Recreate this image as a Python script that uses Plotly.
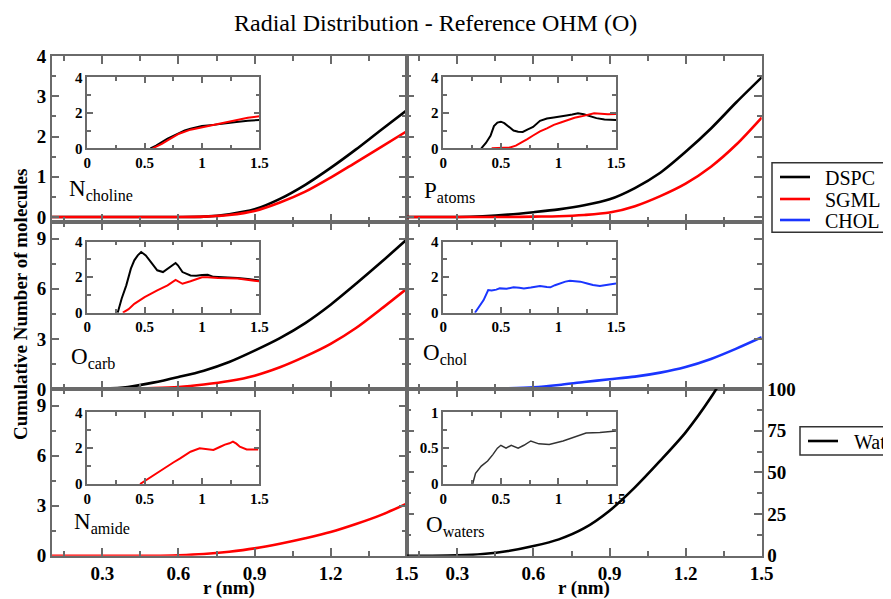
import plotly.graph_objects as go

# ---------------- DATA ----------------
r_main = [0.1, 0.2, 0.3, 0.4, 0.5, 0.6, 0.7, 0.8, 0.9, 1.0, 1.1, 1.2, 1.3, 1.4, 1.5]

nchol_dspc = [0, 0, 0, 0, 0, 0.0, 0.01, 0.07, 0.19, 0.45, 0.80, 1.22, 1.68, 2.17, 2.65]
nchol_sgml = [0, 0, 0, 0, 0, 0.0, 0.01, 0.05, 0.15, 0.36, 0.63, 0.98, 1.36, 1.74, 2.13]

patoms_dspc = [0, 0, 0, 0.02, 0.06, 0.12, 0.19, 0.29, 0.44, 0.72, 1.10, 1.62, 2.20, 2.85, 3.47]
patoms_sgml = [0, 0, 0, 0, 0, 0.01, 0.02, 0.05, 0.11, 0.27, 0.52, 0.83, 1.25, 1.80, 2.47]

ocarb_dspc = [0, 0, 0.02, 0.12, 0.38, 0.72, 1.10, 1.62, 2.30, 3.05, 3.95, 5.05, 6.30, 7.60, 8.95]
ocarb_sgml = [0, 0, 0, 0.01, 0.05, 0.12, 0.27, 0.48, 0.80, 1.30, 1.95, 2.70, 3.65, 4.80, 6.00]

ochol_chol = [0, 0, 0, 0.01, 0.04, 0.10, 0.24, 0.42, 0.58, 0.74, 0.98, 1.32, 1.80, 2.42, 3.10]

namide_sgml = [0, 0, 0, 0, 0, 0.03, 0.10, 0.24, 0.44, 0.72, 1.05, 1.42, 1.90, 2.45, 3.12]

owat_wat = [0, 0, 0.2, 1.0, 2.8, 5.8, 9.8, 16.5, 27, 41, 57, 74, 95, 120, 146]

# insets (running coordination, r in nm)
in_nchol_r_dspc = [0.55, 0.6, 0.65, 0.7, 0.75, 0.8, 0.85, 0.9, 1.0, 1.1, 1.2, 1.3, 1.4, 1.5]
in_nchol_dspc = [0, 0.15, 0.35, 0.55, 0.70, 0.85, 1.00, 1.10, 1.25, 1.32, 1.38, 1.48, 1.55, 1.60]
in_nchol_r_sgml = [0.57, 0.6, 0.65, 0.7, 0.75, 0.8, 0.9, 1.0, 1.1, 1.2, 1.3, 1.4, 1.5]
in_nchol_sgml = [0, 0.08, 0.25, 0.45, 0.65, 0.82, 1.05, 1.18, 1.30, 1.42, 1.58, 1.72, 1.80]

in_patoms_r_dspc = [0.33, 0.37, 0.41, 0.44, 0.47, 0.5, 0.53, 0.57, 0.61, 0.65, 0.69, 0.73, 0.78,
                    0.84, 0.9, 0.96, 1.02, 1.07, 1.12, 1.17, 1.22, 1.27, 1.33, 1.4, 1.5]
in_patoms_dspc = [0, 0.3, 0.7, 1.25, 1.45, 1.5, 1.42, 1.2, 1.0, 0.93, 0.92, 1.05, 1.2,
                  1.55, 1.68, 1.74, 1.78, 1.85, 1.9, 1.98, 1.92, 1.82, 1.7, 1.62, 1.6]
in_patoms_r_sgml = [0.42, 0.5, 0.58, 0.63, 0.68, 0.73, 0.78, 0.84, 0.9, 0.96, 1.02, 1.08, 1.14,
                    1.2, 1.25, 1.31, 1.37, 1.43, 1.5]
in_patoms_sgml = [0, 0.02, 0.05, 0.15, 0.32, 0.52, 0.72, 0.95, 1.12, 1.32, 1.45, 1.6, 1.72,
                  1.8, 1.88, 1.97, 1.95, 1.92, 1.93]

in_ocarb_r_dspc = [0.265, 0.3, 0.34, 0.38, 0.41, 0.44, 0.47, 0.51, 0.555, 0.61, 0.66, 0.7, 0.74,
                   0.77, 0.79, 0.83, 0.9, 0.95, 1.0, 1.05, 1.1, 1.2, 1.31, 1.4, 1.5]
in_ocarb_dspc = [0, 0.8, 1.54, 2.48, 2.95, 3.23, 3.42, 3.23, 2.85, 2.39, 2.29, 2.48, 2.7,
                 2.8, 2.67, 2.29, 2.1, 2.08, 2.12, 2.14, 2.02, 2.0, 1.95, 1.9, 1.82]
in_ocarb_r_sgml = [0.31, 0.36, 0.41, 0.5, 0.61, 0.7, 0.77, 0.8, 0.83, 0.9, 1.0, 1.05, 1.14, 1.31, 1.4, 1.5]
in_ocarb_sgml = [0, 0.2, 0.5, 0.88, 1.26, 1.54, 1.85, 1.72, 1.63, 1.77, 2.0, 2.0, 1.95, 1.92, 1.85, 1.77]

in_ochol_r = [0.275, 0.31, 0.35, 0.39, 0.42, 0.46, 0.49, 0.55, 0.61, 0.66, 0.7, 0.76, 0.84, 0.9,
              0.93, 0.97, 1.01, 1.06, 1.1, 1.15, 1.19, 1.25, 1.3, 1.36, 1.42, 1.5]
in_ochol_chol = [0, 0.3, 0.71, 1.28, 1.25, 1.3, 1.37, 1.35, 1.43, 1.4, 1.37, 1.42, 1.5, 1.45,
                 1.43, 1.55, 1.65, 1.75, 1.8, 1.76, 1.75, 1.65, 1.56, 1.5, 1.55, 1.65]

in_namide_r = [0.46, 0.52, 0.58, 0.63, 0.69, 0.75, 0.81, 0.86, 0.9, 0.98, 1.04, 1.1, 1.16, 1.2,
               1.24, 1.27, 1.3, 1.33, 1.39, 1.44, 1.49]
in_namide_sgml = [0, 0.25, 0.5, 0.75, 0.97, 1.2, 1.43, 1.62, 1.8, 1.99, 1.95, 1.9, 2.08, 2.2,
                  2.27, 2.36, 2.25, 2.08, 1.93, 1.95, 1.93]

in_owat_r = [0.255, 0.28, 0.33, 0.385, 0.43, 0.47, 0.5, 0.545, 0.59, 0.65, 0.7, 0.76, 0.83, 0.92,
             1.04, 1.12, 1.24, 1.36, 1.5]
in_owat_wat = [0, 0.15, 0.25, 0.32, 0.41, 0.5, 0.54, 0.5, 0.54, 0.5, 0.54, 0.6, 0.56, 0.55,
               0.6, 0.64, 0.71, 0.72, 0.74]

# tick labels
main_x_ticks = [0.3, 0.6, 0.9, 1.2, 1.5]
main_x_labels = ["0.3", "0.6", "0.9", "1.2", "1.5"]
top_y_ticks = [0, 1, 2, 3, 4]
mid_y_ticks = [0, 3, 6, 9]
wat_y_ticks = [0, 25, 50, 75, 100]
inset_x_ticks = [0, 0.5, 1, 1.5]
inset_x_labels = ["0", "0.5", "1", "1.5"]
inset_y_ticks = [0, 2, 4]
inset_wat_y_ticks = [0, 0.5, 1]
inset_wat_y_labels = ["0", "0.5", "1"]

series_names = ["DSPC", "SGML", "CHOL"]
water_name = "Wat"
panel_labels = [("N", "choline"), ("P", "atoms"), ("O", "carb"),
                ("O", "chol"), ("N", "amide"), ("O", "waters")]

# ---------------- STYLE ----------------
PAGE_W, PAGE_H = 891, 599
OFF = 8  # default page margin of the html body
W, H = PAGE_W - OFF, PAGE_H - OFF
BLACK, RED, BLUE = "#000000", "#ff0000", "#1a35ff"
FRAME = "#6a6a6a"
FONT = "Liberation Serif, Times New Roman, DejaVu Serif, serif"


def fx(p):
    return (p - OFF) / W


def fy(p):
    return 1 - (p - OFF) / H


col_x = [(51.7, 406.7), (406.7, 761.7)]
row_y = [(56, 222), (222, 389), (389, 555.7)]
inset_col_x = [(87.3, 259.3), (443.3, 616.0)]
inset_row_y = [(77.3, 148.3), (241.7, 312.7), (412.3, 484.0)]

fig = go.Figure()
layout = {}


def axis_common(ticklen, fontsize):
    return dict(ticks="inside", ticklen=ticklen, tickwidth=1.5, tickcolor=FRAME,
                showline=True, linecolor=FRAME, linewidth=1.5, mirror="ticks",
                showgrid=False, zeroline=False, automargin=False,
                tickfont=dict(family=FONT, size=fontsize, color="black", weight="bold"))


main_yranges = [[-0.124, 4], [-0.124, 4], [0, 10], [0, 10], [0, 10], [0, 100]]
main_yticks = [top_y_ticks, top_y_ticks, mid_y_ticks, mid_y_ticks, mid_y_ticks, wat_y_ticks]
main_yminor = [[0.5, 1.5, 2.5, 3.5], [0.5, 1.5, 2.5, 3.5], [1.5, 4.5, 7.5], [1.5, 4.5, 7.5],
               [1.5, 4.5, 7.5], [12.5, 37.5, 62.5, 87.5]]

for i in range(6):
    row, col = divmod(i, 2)
    n = i + 1
    xa = axis_common(8, 19)
    xa.update(domain=[fx(col_x[col][0]), fx(col_x[col][1])], range=[0.1, 1.5],
              tickmode="array", tickvals=main_x_ticks, ticktext=main_x_labels,
              showticklabels=(row == 2), anchor="y%d" % n,
              minor=dict(tickmode="array", tickvals=[0.15, 0.45, 0.75, 1.05, 1.35],
                         ticks="inside", ticklen=5, tickwidth=1.5, tickcolor=FRAME))
    ya = axis_common(8, 19)
    ya.update(domain=[fy(row_y[row][1]), fy(row_y[row][0])], range=main_yranges[i],
              tickmode="array", tickvals=main_yticks[i],
              showticklabels=(col == 0 or i == 5), anchor="x%d" % n,
              minor=dict(tickmode="array", tickvals=main_yminor[i],
                         ticks="inside", ticklen=5, tickwidth=1.5, tickcolor=FRAME))
    if i == 5:
        ya.update(side="right")
    layout["xaxis%d" % n] = xa
    layout["yaxis%d" % n] = ya

for i in range(6):
    row, col = divmod(i, 2)
    n = i + 7
    xa = axis_common(6, 15)
    xa.update(domain=[fx(inset_col_x[col][0]), fx(inset_col_x[col][1])], range=[0, 1.5],
              tickmode="array", tickvals=inset_x_ticks, ticktext=inset_x_labels,
              anchor="y%d" % n,
              minor=dict(tickmode="array", tickvals=[0.25, 0.75, 1.25],
                         ticks="inside", ticklen=4, tickwidth=1.5, tickcolor=FRAME))
    ya = axis_common(6, 15)
    if i == 5:
        ya.update(range=[0, 1], tickmode="array", tickvals=inset_wat_y_ticks,
                  ticktext=inset_wat_y_labels,
                  minor=dict(tickmode="array", tickvals=[0.25, 0.75],
                             ticks="inside", ticklen=4, tickwidth=1.5, tickcolor=FRAME))
    else:
        ya.update(range=[0, 4], tickmode="array", tickvals=inset_y_ticks,
                  minor=dict(tickmode="array", tickvals=[1, 3],
                             ticks="inside", ticklen=4, tickwidth=1.5, tickcolor=FRAME))
    ya.update(domain=[fy(inset_row_y[row][1]), fy(inset_row_y[row][0])], anchor="x%d" % n)
    layout["xaxis%d" % n] = xa
    layout["yaxis%d" % n] = ya


def add_main(n, y, color, name):
    fig.add_trace(go.Scatter(x=r_main, y=y, mode="lines", name=name,
                             line=dict(color=color, width=2.6, shape="spline", smoothing=0.8),
                             xaxis="x%d" % n, yaxis="y%d" % n, showlegend=False))


def add_inset(n, x, y, color, name, width=2.0):
    fig.add_trace(go.Scatter(x=x, y=y, mode="lines", name=name,
                             line=dict(color=color, width=width),
                             xaxis="x%d" % n, yaxis="y%d" % n, showlegend=False))


add_main(1, nchol_dspc, BLACK, "DSPC")
add_main(1, nchol_sgml, RED, "SGML")
add_main(2, patoms_dspc, BLACK, "DSPC")
add_main(2, patoms_sgml, RED, "SGML")
add_main(3, ocarb_dspc, BLACK, "DSPC")
add_main(3, ocarb_sgml, RED, "SGML")
add_main(4, ochol_chol, BLUE, "CHOL")
add_main(5, namide_sgml, RED, "SGML")
add_main(6, owat_wat, BLACK, "Wat")

add_inset(7, in_nchol_r_dspc, in_nchol_dspc, BLACK, "DSPC")
add_inset(7, in_nchol_r_sgml, in_nchol_sgml, RED, "SGML")
add_inset(8, in_patoms_r_dspc, in_patoms_dspc, BLACK, "DSPC")
add_inset(8, in_patoms_r_sgml, in_patoms_sgml, RED, "SGML")
add_inset(9, in_ocarb_r_dspc, in_ocarb_dspc, BLACK, "DSPC")
add_inset(9, in_ocarb_r_sgml, in_ocarb_sgml, RED, "SGML")
add_inset(10, in_ochol_r, in_ochol_chol, BLUE, "CHOL")
add_inset(11, in_namide_r, in_namide_sgml, RED, "SGML")
add_inset(12, in_owat_r, in_owat_wat, "#333333", "Wat", width=1.5)

annotations = []
shapes = []


def text(xp, yp, s, size, xanchor="center", yanchor="middle", angle=0, weight="normal"):
    annotations.append(dict(x=fx(xp), y=fy(yp), xref="paper", yref="paper", text=s,
                            showarrow=False, xanchor=xanchor, yanchor=yanchor, textangle=angle,
                            font=dict(family=FONT, size=size, color="black", weight=weight)))


text(435, 23, "Radial Distribution - Reference OHM (O)", 24)
text(20, 305, "Cumulative Number of molecules", 19, angle=-90, weight="bold")
text(229, 588, "r (nm)", 19, weight="bold")
text(584, 588, "r (nm)", 19, weight="bold")

label_pos = [(67, 190), (422, 192), (69, 358), (421, 354), (72, 523), (424, 526)]
for (big, sub), (lx, ly) in zip(panel_labels, label_pos):
    text(lx, ly, "%s<sub>%s</sub>" % (big, sub), 23, xanchor="left")

# legends
shapes.append(dict(type="rect", xref="paper", yref="paper", x0=fx(772), x1=fx(885),
                   y0=fy(232.3), y1=fy(162.7), line=dict(color="#333333", width=1.5),
                   fillcolor="white", layer="above"))
for name, color, ly in zip(series_names, [BLACK, RED, BLUE], [177, 199, 220]):
    shapes.append(dict(type="line", xref="paper", yref="paper", x0=fx(780), x1=fx(810),
                       y0=fy(ly), y1=fy(ly), line=dict(color=color, width=2.6)))
    text(823, ly + 1, name, 20, xanchor="left")

shapes.append(dict(type="rect", xref="paper", yref="paper", x0=fx(800), x1=fx(889.5),
                   y0=fy(455), y1=fy(426.7), line=dict(color="#333333", width=1.5),
                   fillcolor="white", layer="above"))
shapes.append(dict(type="line", xref="paper", yref="paper", x0=fx(808), x1=fx(838),
                   y0=fy(441), y1=fy(441), line=dict(color=BLACK, width=2.6)))
text(852, 442, water_name, 20, xanchor="left")

layout.update(width=W, height=H, margin=dict(l=0, r=0, t=0, b=0, autoexpand=False),
              plot_bgcolor="white", paper_bgcolor="white", showlegend=False,
              annotations=annotations, shapes=shapes)
fig.update_layout(**layout)
fig.write_html("out.html")
